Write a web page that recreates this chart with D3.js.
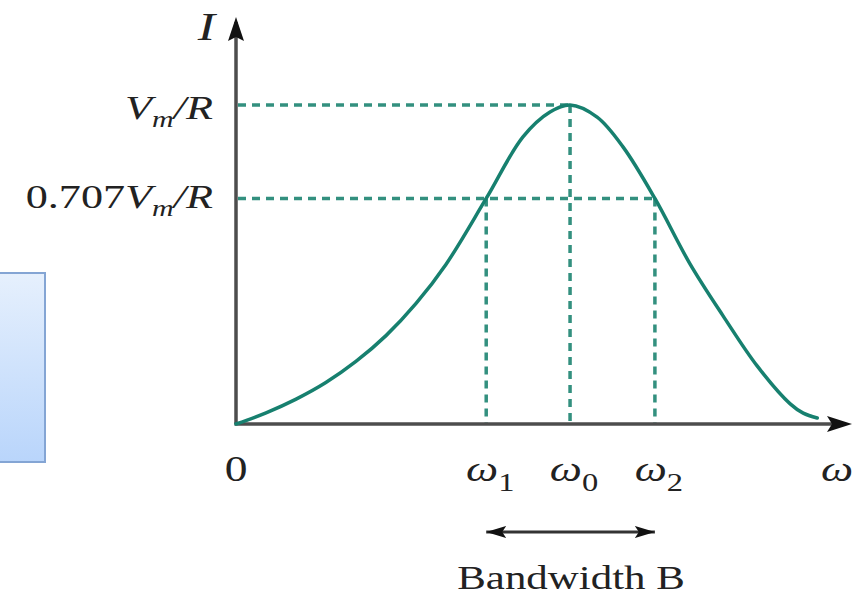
<!DOCTYPE html>
<html>
<head>
<meta charset="utf-8">
<script src="https://cdn.jsdelivr.net/npm/d3@7"></script>
<style>
  html, body { margin: 0; padding: 0; background: #fff; }
  svg { display: block; }
  text { font-family: "Liberation Serif", "DejaVu Serif", serif; fill: #222; }
</style>
</head>
<body>
<script>
// resonance curve, current vs frequency (I in units of Vm/R, omega in units of omega0)
const curveOmega = [0, 0.090, 0.180, 0.269, 0.359, 0.449, 0.539, 0.629, 0.749, 0.859, 0.940, 1, 1.081, 1.159, 1.254, 1.359, 1.458, 1.560, 1.659, 1.698, 1.740];
const curveI     = [0, 0.035, 0.078, 0.130, 0.196, 0.277, 0.378, 0.501, 0.707, 0.900, 0.978, 1, 0.962, 0.868, 0.707, 0.502, 0.339, 0.182, 0.063, 0.034, 0.019];

const xTickValues = [0, 0.749, 1, 1.254, 1.844];
const xTickBase = ["0", "ω", "ω", "ω", "ω"];
const xTickSub  = ["", "1", "0", "2", ""];

const yTickValues = [1, 0.707];
const yTickPrefix = ["", "0.707"];

const bandLabel = "Bandwidth B";

const width = 861, height = 596;
const teal = "#17806f";
const sx = 1.3; // the picture is stretched sideways

const svg = d3.select("body").append("svg")
  .attr("width", width)
  .attr("height", height);

const defs = svg.append("defs");
const grad = defs.append("linearGradient")
  .attr("id", "boxfill")
  .attr("x1", 0).attr("y1", 0).attr("x2", 0).attr("y2", 1);
grad.append("stop").attr("offset", "0%").attr("stop-color", "#e6f0fd");
grad.append("stop").attr("offset", "100%").attr("stop-color", "#b9d5fb");

defs.append("marker")
  .attr("id", "head")
  .attr("viewBox", "0 0 20 12")
  .attr("refX", 20).attr("refY", 6)
  .attr("markerWidth", 20).attr("markerHeight", 12)
  .attr("markerUnits", "userSpaceOnUse")
  .attr("orient", "auto-start-reverse")
  .append("path")
  .attr("d", "M0,0 L20,6 L0,12 L4,6 Z")
  .attr("fill", "#111");

// the pale blue box cut at the left edge
svg.append("rect")
  .attr("x", -4).attr("y", 273)
  .attr("width", 49).attr("height", 189)
  .attr("fill", "url(#boxfill)")
  .attr("stroke", "#84a5d4")
  .attr("stroke-width", 2);

const x = d3.scaleLinear().domain([0, 1.844]).range([236, 852]);
const y = d3.scaleLinear().domain([0, 1]).range([424, 105]);

// dashed guides
const guides = svg.append("g")
  .attr("stroke", "#33907f")
  .attr("stroke-width", 3.5)
  .attr("stroke-dasharray", "8,6")
  .attr("fill", "none");

guides.selectAll("line.h")
  .data(yTickValues)
  .join("line")
  .attr("class", "h")
  .attr("x1", x(0) + 2)
  .attr("x2", (d) => d === 1 ? x(1) : x(xTickValues[3]))
  .attr("y1", (d) => y(d))
  .attr("y2", (d) => y(d));

guides.selectAll("line.v")
  .data([0.749, 1, 1.254])
  .join("line")
  .attr("class", "v")
  .attr("x1", (d) => x(d))
  .attr("x2", (d) => x(d))
  .attr("y1", (d) => d === 1 ? y(1) : y(0.707))
  .attr("y2", y(0));

// axes with arrow heads
const axisG = svg.append("g");
axisG.append("line")
  .attr("x1", x(0)).attr("y1", y(0))
  .attr("x2", x(0)).attr("y2", 22)
  .attr("stroke", "#4d4d4d").attr("stroke-width", 3.5);
axisG.append("path")
  .attr("d", `M${x(0)},17 L${x(0) - 8},41 L${x(0)},37 L${x(0) + 8},41 Z`)
  .attr("fill", "#111");
axisG.append("line")
  .attr("x1", x(0) - 1.5).attr("y1", y(0))
  .attr("x2", x(1.844) - 8).attr("y2", y(0))
  .attr("stroke", "#4d4d4d").attr("stroke-width", 3.5);
axisG.append("path")
  .attr("d", `M${x(1.844)},${y(0)} L${x(1.844) - 25},${y(0) - 8} L${x(1.844) - 20},${y(0)} L${x(1.844) - 25},${y(0) + 8} Z`)
  .attr("fill", "#111");

// the resonance curve
const pts = curveOmega.map((w, i) => [w, curveI[i]]);
const line = d3.line()
  .x((d) => x(d[0]))
  .y((d) => y(d[1]))
  .curve(d3.curveCatmullRom.alpha(0.5));

svg.append("path")
  .datum(pts)
  .attr("d", line)
  .attr("fill", "none")
  .attr("stroke", teal)
  .attr("stroke-width", 3.5)
  .attr("stroke-linecap", "round");

// labels, helper puts a stretched text group at a point
function label(px, py, anchor, size) {
  return svg.append("g")
    .attr("transform", `translate(${px},${py}) scale(${sx},1)`)
    .append("text")
    .attr("text-anchor", anchor)
    .style("font-size", size + "px");
}

// I
label(215, 40, "end", 40)
  .style("font-style", "italic")
  .text("I");

// y labels
yTickValues.forEach((v, i) => {
  const t = label(213, y(v) + (i === 0 ? 14 : 10), "end", 34);
  t.append("tspan").text(yTickPrefix[i]);
  t.append("tspan").style("font-style", "italic").text("V");
  t.append("tspan").style("font-style", "italic").style("font-size", "23px").attr("dy", 8).text("m");
  t.append("tspan").attr("dy", -8).style("font-style", "italic").text("/R");
});

// x labels
xTickValues.forEach((v, i) => {
  const px = i === 0 ? x(v) : (i === 4 ? x(v) - 15 : x(v) + 4);
  const t = label(px, 481, "middle", 35);
  if (xTickBase[i] === "ω") t.style("font-style", "italic");
  t.append("tspan").text(xTickBase[i]);
  if (xTickSub[i]) {
    t.append("tspan")
      .style("font-style", "normal")
      .style("font-size", "25px")
      .attr("dy", 10)
      .text(xTickSub[i]);
  }
});

// bandwidth arrow
svg.append("line")
  .attr("x1", x(0.749)).attr("x2", x(1.254))
  .attr("y1", 532).attr("y2", 532)
  .attr("stroke", "#333").attr("stroke-width", 3)
  .attr("marker-start", "url(#head)")
  .attr("marker-end", "url(#head)");

label(x(1) + 1, 589, "middle", 33)
  .text(bandLabel);
</script>
</body>
</html>
